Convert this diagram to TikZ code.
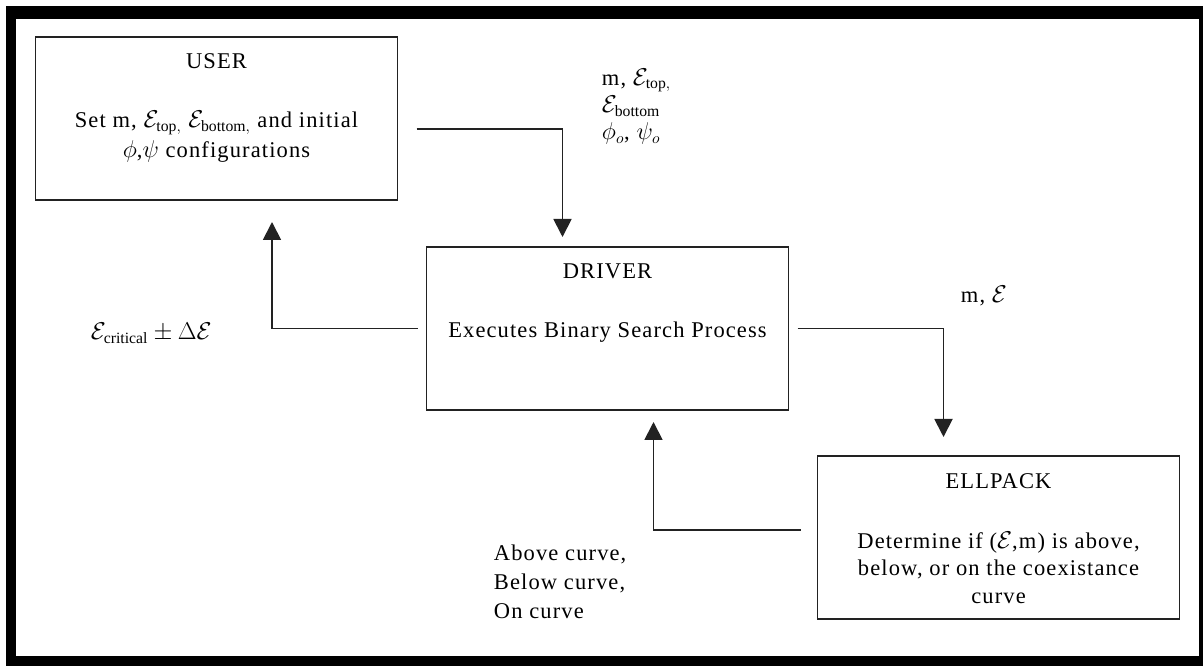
\documentclass[tikz,border=0pt]{standalone}
\usepackage{amsmath,amssymb}
\usepackage{fontspec}
\setmainfont{Liberation Serif}[LetterSpace=5.0]
\usetikzlibrary{arrows.meta, positioning, calc}
\definecolor{inkgray}{HTML}{222222}

\begin{document}
\begin{tikzpicture}[
  >={Triangle[length=4.5mm, width=4.5mm]},
  box/.style={draw=inkgray, line width=1.3pt, minimum width=9.05cm,
    minimum height=4.075cm, inner sep=0pt, outer sep=0pt},
  flow/.style={->, draw=inkgray, line width=1.3pt},
  every node/.style={font=\fontsize{16}{19.5}\selectfont, text=black},
]

% Background and frame
\fill[white] (0,0) rectangle (30.075,16.65);
\fill[black] (0.15,0) rectangle (30.075,16.5);
\fill[white] (0.4,0.25) rectangle (29.975,16.175);

% ========================================
% Boxes
% ========================================
\node[box] (user) at (5.4125,13.6875) {};
\node[box, below right=1.175cm and 0.725cm of user] (driver) {};
\node[box, below right=1.15cm and 0.725cm of driver] (ellpack) {};

% USER
\node[anchor=base] (usertitle) at ([yshift=-0.8cm]user.north) {USER};
\node[anchor=base, align=center] (usertext) at ([yshift=-3.025cm]user.north)
  {Set m, $\mathcal{E}_{\mathrm{top,}}$ $\mathcal{E}_{\mathrm{bottom,}}$ and initial\\[2pt]
   $\phi$,$\psi$ configurations};

% DRIVER
\node[anchor=base] (drivertitle) at ([yshift=-0.8cm]driver.north) {DRIVER};
\node[anchor=base] (drivertext) at ([yshift=-2.275cm]driver.north)
  {Executes Binary Search Process};

% ELLPACK
\node[anchor=base] (ellpacktitle) at ([yshift=-0.8cm]ellpack.north) {ELLPACK};
\node[anchor=base, align=center] (ellpacktext) at ([yshift=-3.675cm]ellpack.north)
  {Determine if ($\mathcal{E}$,m) is above,\\
   below, or on the coexistance\\
   curve};

% ========================================
% Connectors
% ========================================
\draw[flow] ([xshift=0.475cm, yshift=-0.2625cm]user.east)
  -| ([xshift=-1.125cm, yshift=0.25cm]driver.north);
\draw[flow] ([xshift=-0.225cm]driver.west)
  -| ([xshift=1.3875cm, yshift=-0.55cm]user.south);
\draw[flow] ([xshift=0.225cm]driver.east)
  -| ([xshift=-1.375cm, yshift=0.475cm]ellpack.north);
\draw[flow] ([xshift=-0.425cm, yshift=0.1875cm]ellpack.west)
  -| ([xshift=1.15cm, yshift=-0.3cm]driver.south);

% ========================================
% Labels
% ========================================
\node[anchor=base west, align=left] (inputlabel) at (14.925,13.15)
  {m, $\mathcal{E}_{\mathrm{top,}}$\\
   $\mathcal{E}_{\mathrm{bottom}}$\\
   $\phi_o$, $\psi_o$};
\node[anchor=base west] (critlabel) at (2.15,8.15)
  {$\mathcal{E}_{\mathrm{critical}} \pm \Delta\mathcal{E}$};
\node[anchor=base west] (pointlabel) at (23.9,9.075) {m, $\mathcal{E}$};
\node[anchor=base west, align=left] (curvelabel) at (12.225,1.2)
  {Above curve,\\[1pt]
   Below curve,\\[1pt]
   On curve};

\end{tikzpicture}
\end{document}
